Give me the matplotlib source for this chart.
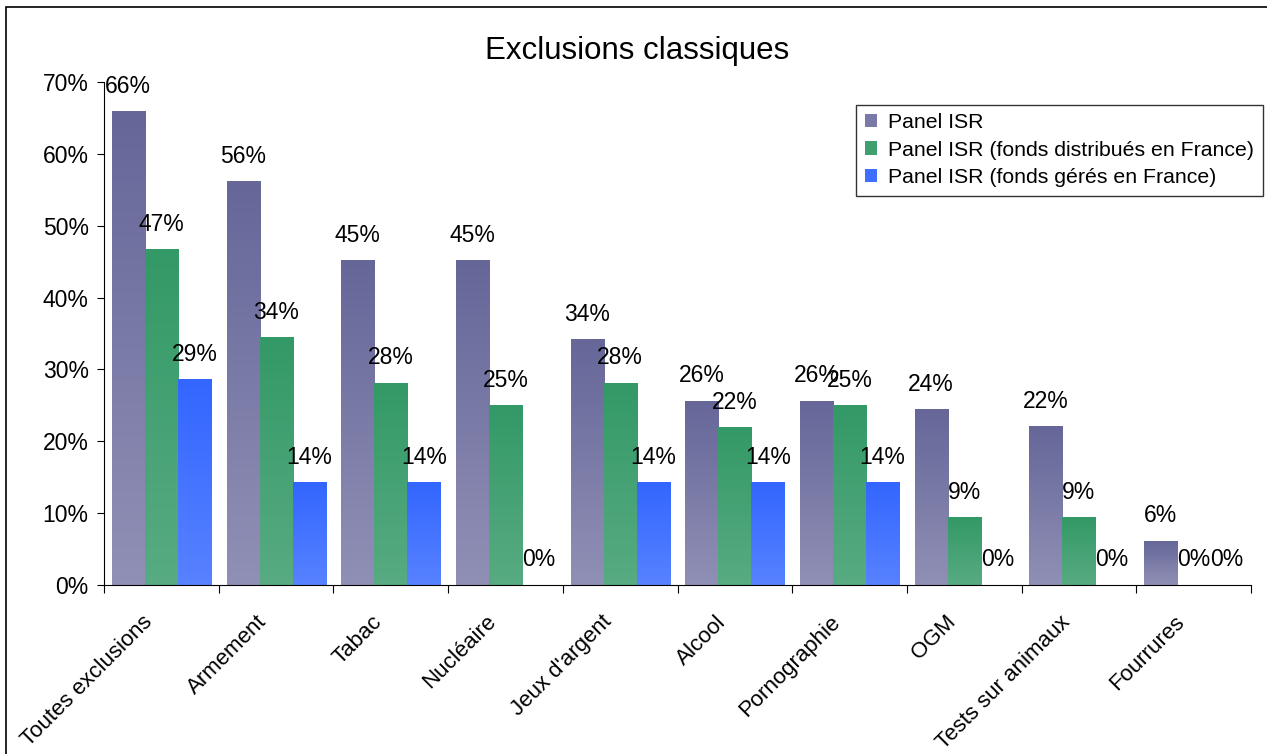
import numpy as np
import matplotlib
matplotlib.use("Agg")
import matplotlib.pyplot as plt
from matplotlib.colors import LinearSegmentedColormap
from matplotlib.patches import Rectangle, Patch

plt.rcParams["font.family"] = ["Liberation Sans", "DejaVu Sans"]

categories = [
    "Toutes exclusions", "Armement", "Tabac", "Nucléaire", "Jeux d'argent",
    "Alcool", "Pornographie", "OGM", "Tests sur animaux", "Fourrures",
]
series_names = [
    "Panel ISR",
    "Panel ISR (fonds distribués en France)",
    "Panel ISR (fonds gérés en France)",
]
panel_isr = [65.9, 56.1, 45.1, 45.1, 34.1, 25.6, 25.6, 24.4, 22.0, 6.1]
panel_distrib = [46.7, 34.4, 28.1, 25.0, 28.1, 21.9, 25.0, 9.4, 9.4, 0.0]
panel_geres = [28.6, 14.3, 14.3, 0.0, 14.3, 14.3, 14.3, 0.0, 0.0, 0.0]
y_ticks = [0, 10, 20, 30, 40, 50, 60, 70]

# (top colour, bottom colour, legend swatch) for each series
gradients = [
    ("#666699", "#9090b6", "#7a7aa8"),
    ("#339966", "#58ab82", "#3f9f70"),
    ("#3366ff", "#5782ff", "#3f6fff"),
]

FS = 16.5

fig = plt.figure(figsize=(12.67, 7.54), dpi=100)
fig.patches.append(Rectangle((6 / 1267, -0.1), 1.2, 1 - 7 / 754 + 0.1,
                             transform=fig.transFigure, fill=False,
                             edgecolor="black", linewidth=1.2))

ax = fig.add_axes([0.0821, 0.2241, 0.9053, 0.6671])

x = np.arange(len(categories))
width = 0.288
offsets = [-width, 0, width]
all_values = [panel_isr, panel_distrib, panel_geres]

handles = []
for values, off, (top, bottom, swatch), name in zip(all_values, offsets, gradients, series_names):
    bars = ax.bar(x + off, values, width, color="none", linewidth=0)
    handles.append(Patch(facecolor=swatch, edgecolor="none", label=name))
    cmap = LinearSegmentedColormap.from_list(name, [bottom, top])
    grad = np.linspace(0, 1, 128).reshape(-1, 1)
    for b, v in zip(bars, values):
        if v <= 0:
            continue
        x0 = b.get_x()
        ax.imshow(grad, cmap=cmap, origin="lower", aspect="auto",
                  extent=[x0, x0 + b.get_width(), 0, b.get_height()], zorder=2)
    for b, v in zip(bars, values):
        ax.annotate(f"{v:.0f}%", (b.get_x() + b.get_width() / 2, v),
                    xytext=(0, 13.5), textcoords="offset points",
                    ha="center", va="baseline", fontsize=FS, zorder=4)

# category names, rotated and hung below each group
for xi, cat in zip(x, categories):
    ax.annotate(cat, (xi, 0), xytext=(-14, -19), textcoords="offset points",
                rotation=45, ha="right", va="top", rotation_mode="anchor",
                fontsize=16, annotation_clip=False)

ax.set_xlim(-0.5, len(categories) - 0.5)
ax.set_ylim(0, 70)
ax.set_yticks(y_ticks)
ax.set_yticklabels([f"{t}%" for t in y_ticks], fontsize=FS)
ax.set_xticks(np.arange(len(categories) + 1) - 0.5)
ax.set_xticklabels([])
ax.tick_params(axis="x", length=6, direction="out")
ax.tick_params(axis="y", length=5, direction="out", pad=6)
for s in ["top", "right"]:
    ax.spines[s].set_visible(False)

fig.text(0.503, 0.933, "Exclusions classiques", ha="center", va="center", fontsize=22.5)

leg = ax.legend(handles=handles, loc="upper right", bbox_to_anchor=(1.01, 0.955),
                fontsize=15.3, frameon=True, fancybox=False, edgecolor="black",
                handlelength=0.6, handleheight=0.6, handletextpad=0.5,
                borderpad=0.4, labelspacing=0.4, borderaxespad=0)
leg.get_frame().set_linewidth(1.0)

fig.savefig("out.png", dpi=100)
